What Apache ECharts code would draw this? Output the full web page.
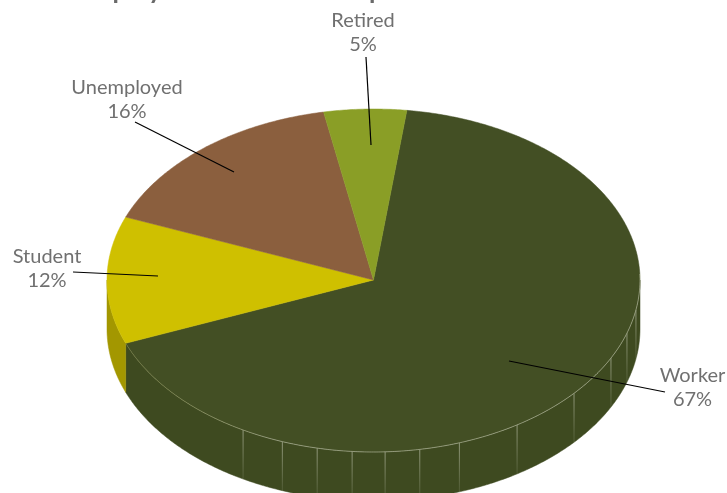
<!DOCTYPE html>
<html><head><meta charset="utf-8">
<style>html,body{margin:0;padding:0;background:#fff}#c{width:727px;height:493px}</style>
<script src="https://cdn.jsdelivr.net/npm/echarts@6/dist/echarts.min.js"></script>
</head><body><div id="c"></div>
<script>
const categories = ['Worker', 'Student', 'Unemployed', 'Retired'];
const values = [67, 12, 16, 5];
const topColors = ['#434F24', '#CFC000', '#8B5F3E', '#8A9E26'];
const wallColors = ['#3E4A20', '#A39700', '#6E4B30', '#6D7D1E'];
const facetAngles = [100, 108, 117, 131.2, 147.4, 161.2, 170, 177.5, 184.6, 192.2, 200, 209.3];
const labelAnchors = [
  {x: 692.5, y: 388, from: [665, 392], to: [509, 361]},
  {x: 47, y: 268.5, from: [73, 272], to: [158, 276]},
  {x: 127, y: 100, from: [135, 122], to: [234, 172]},
  {x: 363, y: 32.5, from: [366, 57], to: [371, 145]}
];
const startDeg = 7.2, cx = 373.5, cy = 280, rx = 266.5, ryTop = 171, ryBottom = 172, depth = 49;
const total = values.reduce((a, b) => a + b, 0);
const font = 'Lato';

function pt(deg, dy) {
  const r = deg * Math.PI / 180, c = Math.cos(r);
  return [cx + rx * Math.sin(r), cy - (c > 0 ? ryTop : ryBottom) * c + (dy || 0)];
}
function arc(a, b, dy) {
  const n = Math.max(2, Math.ceil(Math.abs(b - a) * 2)), out = [];
  for (let i = 0; i <= n; i++) out.push(pt(a + (b - a) * i / n, dy));
  return out;
}
function range(i) {
  let s = startDeg;
  for (let k = 0; k < i; k++) s += values[k] / total * 360;
  return [s, s + values[i] / total * 360];
}
function wallItem(p, api) {
  const i = api.value(0), [a, b] = range(i);
  const lo = Math.max(a, 90), hi = Math.min(b, 270);
  if (hi <= lo) return {type: 'group', children: []};
  const points = arc(lo, hi, 0).concat(arc(hi, lo, depth));
  return {type: 'polygon', shape: {points}, style: {fill: wallColors[i], stroke: wallColors[i], lineWidth: 0.5}};
}
function topItem(p, api) {
  const i = api.value(0), [a, b] = range(i);
  const points = [[cx, cy]].concat(arc(a, b, 0));
  return {type: 'polygon', shape: {points}, style: {fill: topColors[i], stroke: topColors[i], lineWidth: 0.5}};
}
function labelItem(p, api) {
  const i = api.value(0), l = labelAnchors[i];
  return {type: 'group', children: [
    {type: 'line', shape: {x1: l.from[0], y1: l.from[1], x2: l.to[0], y2: l.to[1]}, style: {stroke: '#000', lineWidth: 1.2}},
    {type: 'text', style: {x: l.x, y: l.y, text: categories[i] + '\n' + api.value(1) + '%', align: 'center', verticalAlign: 'middle',
      fill: '#707070', fontFamily: font, fontSize: 20, lineHeight: 24}}
  ]};
}
function facetItem(p, api) {
  const a = api.value(0), t = pt(a, 0);
  return {type: 'line', shape: {x1: t[0], y1: t[1], x2: t[0], y2: t[1] + depth},
    style: {lineWidth: 1, stroke: {type: 'linear', x: 0, y: t[1], x2: 0, y2: t[1] + depth, global: true,
      colorStops: [{offset: 0, color: 'rgba(215,218,200,0.55)'}, {offset: 1, color: 'rgba(215,218,200,0.12)'}]}}};
}
function rimItem() {
  const [a, b] = range(0);
  return {type: 'polyline', shape: {points: arc(Math.max(a, 88), b, 0)},
    style: {fill: 'none', lineWidth: 1, stroke: {type: 'linear', x: 128, y: 0, x2: 270, y2: 0, global: true,
      colorStops: [{offset: 0, color: 'rgba(205,205,120,0.25)'}, {offset: 1, color: 'rgba(215,218,195,0.5)'}]}}};
}
const idx = categories.map((c, i) => [i, values[i]]);
const base = {type: 'custom', coordinateSystem: 'none', silent: true, animation: false, clip: false};
const chart = echarts.init(document.getElementById('c'), null, {renderer: 'canvas'});
chart.setOption({
  animation: false,
  backgroundColor: '#fff',
  title: {text: 'Employment status of respondents', left: 76, top: -22, padding: 0,
    textStyle: {fontFamily: font, fontSize: 26, fontWeight: 'bold', color: '#6A6A6A'}},
  series: [
    Object.assign({}, base, {name: 'walls', z: 1, data: idx, renderItem: wallItem}),
    Object.assign({}, base, {name: 'facets', z: 2, data: facetAngles.map(a => [a]), renderItem: facetItem}),
    Object.assign({}, base, {name: 'tops', z: 3, data: idx, renderItem: topItem}),
    Object.assign({}, base, {name: 'rim', z: 4, data: [[0]], renderItem: rimItem}),
    Object.assign({}, base, {name: 'labels', z: 5, data: idx, renderItem: labelItem})
  ]
});
</script></body></html>
